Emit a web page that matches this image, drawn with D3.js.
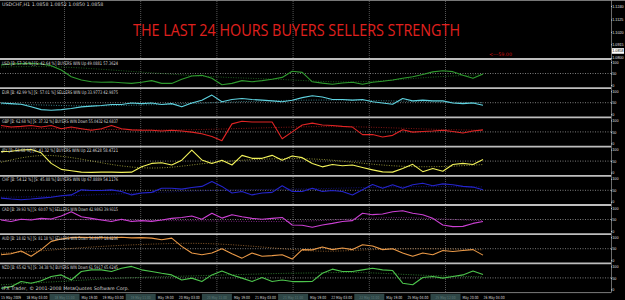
<!DOCTYPE html>
<html><head><meta charset="utf-8">
<script src="https://cdn.jsdelivr.net/npm/d3@7/dist/d3.min.js"></script>
<style>html,body{margin:0;padding:0;background:#000;overflow:hidden}</style>
</head><body><svg id="c" width="625" height="300"></svg>
<script>
// ---------- data ----------
const currencies = ["USD","EUR","GBP","JPY","CHF","CAD","AUD","NZD"];
const panelTexts = [
  "USD  [B: 57.36 %]  [S: 42.64 %]  BUYERS WIN   Up 49.0881 57.3624",
  "EUR  [B: 42.99 %]  [S: 57.01 %]  SELLERS WIN   Up 33.9773 42.9875",
  "GBP  [B: 62.68 %]  [S: 37.32 %]  BUYERS WIN   Down 55.0432 62.6837",
  "JPY  [B: 58.68 %]  [S: 41.32 %]  BUYERS WIN   Up 22.4628 58.4721",
  "CHF  [B: 54.12 %]  [S: 45.88 %]  BUYERS WIN   Up 67.8889 54.1176",
  "CAD  [B: 39.93 %]  [S: 60.07 %]  SELLERS WIN   Down 42.9863 39.9315",
  "AUD  [B: 18.82 %]  [S: 81.18 %]  SELLERS WIN   Down 36.8977 18.8236",
  "NZD  [B: 65.62 %]  [S: 34.38 %]  BUYERS WIN   Down 61.5917 65.6245"
];
const usdLine = [87,91,93,94,91,84,65,36,22,14,12,13,10,7,12,19,7,7,25,39,42,29,1,7,19,14,19,25,33,60,55,14,8,3,9,12,3,12,16,22,29,36,46,57,62,58,42,29,48];
const eurLine = [49,46,43,32,20,17,20,25,32,35,38,42,42,49,46,49,42,46,32,49,61,83,54,64,68,64,61,58,54,61,72,80,75,64,64,61,64,54,49,43,68,58,61,58,58,49,46,49,39];
const gbpLine = [78,71,74,78,71,78,64,71,64,57,64,78,64,59,57,57,54,57,54,49,42,30,12,85,96,93,93,93,20,50,80,88,80,78,74,71,38,39,28,35,59,49,52,54,57,52,45,54,59];
const jpyLine = [91,93,98,100,86,40,14,8,2,1,2,2,1,2,25,40,43,33,54,98,55,40,54,33,75,62,62,75,54,72,65,40,25,35,30,33,22,12,3,2,18,36,4,18,6,35,40,35,57];
const chfLine = [16,12,9,12,16,20,26,30,52,49,49,52,45,30,38,41,59,59,55,62,67,88,67,38,45,30,38,41,70,45,45,59,45,49,45,30,52,75,59,74,59,74,81,70,78,74,67,64,52];
const cadLine = [48,41,51,48,55,52,65,84,62,55,48,41,51,41,45,42,48,55,59,65,51,77,56,71,62,55,51,55,59,26,25,16,26,33,41,45,77,71,74,84,88,77,71,55,26,19,20,33,41];
const audLine = [24,28,40,17,46,82,92,98,100,98,98,97,100,97,98,96,89,96,60,31,24,31,50,28,9,31,17,20,24,5,46,45,57,46,53,46,67,62,46,50,31,17,31,24,42,38,42,46,22];
const nzdLine = [5,12,34,27,38,56,63,41,78,85,85,78,92,100,85,78,70,63,41,49,34,63,80,63,49,34,52,34,41,34,34,35,70,88,78,78,85,92,85,82,27,20,52,56,49,56,63,80,65];
const usdSlow = [78,82,75,62,50,38,30,25,14,12,25,38,45];
const eurSlow = [45,40,35,38,42,48,55,60,62,60,57,53,50];
const gbpSlow = [68,65,62,60,58,60,65,70,74,72,66,60,57];
const jpySlow = [45,85,60,25,15,40,55,62,60,40,25,25,35];
const chfSlow = [20,22,28,35,42,48,52,55,57,62,66,66,65];
const cadSlow = [50,52,50,47,45,44,42,40,45,55,60,52,45];
const audSlow = [30,40,55,65,72,75,65,50,35,45,50,50,45];
const nzdSlow = [20,30,40,50,55,60,65,70,72,75,65,58,55];
const fastSeries = [usdLine,eurLine,gbpLine,jpyLine,chfLine,cadLine,audLine,nzdLine];
const slowSeries = [usdSlow,eurSlow,gbpSlow,jpySlow,chfSlow,cadSlow,audSlow,nzdSlow];
const levelTicks = [100,50,0];
const timeLabels = ["15 May 2009","18 May 03:00","18 May 11:00","18 May 19:00","19 May 03:00","19 May 11:00","19 May 19:00","20 May 03:00","20 May 11:00","20 May 19:00","21 May 03:00","21 May 11:00","21 May 19:00","22 May 03:00","22 May 11:00","22 May 19:00","25 May 04:00","25 May 12:00","25 May 20:00","26 May 04:00"];
const gridLabelIdx = [2,5,8,11,14,17];
const priceTicks = [1.1240,1.1125,1.1020,1.0915,1.0800];
const priceDomain = [1.0800,1.1240];
const lastPrice = 1.0858;
const headerText = "USDCHF,H1  1.0858 1.0852 1.0850 1.0858";
const titleText = "THE LAST 24 HOURS BUYERS SELLERS STRENGTH";
const arrowText = "<---59.00";
const copyrightText = "IFX Trader, \u00A9 2001-2008 MetaQuotes Software Corp.";

// ---------- styles ----------
const lineColors = ["#2f9a2f","#5fd3e0","#e02424","#f2f25a","#2424cc","#cc40d4","#eb9a48","#4cc44c"];
const FONT = "Tahoma, 'DejaVu Sans', sans-serif";
const AXFONT = "'Liberation Sans', Arial, sans-serif";

// ---------- drawing ----------
const svg = d3.select("#c");
const W = 625, plotRight = 611, firstTop = 59, panelH = 29.2, bottom = firstTop + panelH*8;
svg.append("rect").attr("width",W).attr("height",300).attr("fill","#000");

const x = d3.scaleLinear().domain([0, usdLine.length-1]).range([1, 483]);
const xs = d3.scaleLinear().domain([0, usdSlow.length-1]).range([1, 483]);
const xt = d3.scaleLinear().domain([0, 1]).range([1, 26.4]);
const yPrice = d3.scaleLinear().domain(priceDomain).range([57.8, 6]);

svg.append("line").attr("x1",0).attr("x2",W).attr("y1",0.5).attr("y2",0.5).attr("stroke","#777");

// vertical grid
svg.selectAll("line.vg").data(gridLabelIdx).enter().append("line")
  .attr("x1",d=>xt(d+0.5)).attr("x2",d=>xt(d+0.5)).attr("y1",1).attr("y2",bottom)
  .attr("stroke","#6a6a6a").attr("stroke-width",0.8).attr("stroke-dasharray","1,1");

svg.append("line").attr("x1",plotRight+0.5).attr("x2",plotRight+0.5).attr("y1",0).attr("y2",bottom)
  .attr("stroke","#9a9a9a").attr("stroke-width",0.7);

function styleRightAxis(ax){
  ax.select(".domain").remove();
  ax.selectAll("line").attr("stroke","#ccc");
  ax.selectAll("text").attr("fill","#e0e0e0").attr("font-size",3.7).attr("font-family",AXFONT).attr("x",1.3);
}
// price axis
const pAxis = svg.append("g").attr("transform",`translate(${plotRight},0)`)
  .call(d3.axisRight(yPrice).tickValues(priceTicks).tickFormat(d3.format(".4f")).tickSize(1));
styleRightAxis(pAxis);
svg.append("rect").attr("x",plotRight+1).attr("y",yPrice(lastPrice)-2.8).attr("width",12).attr("height",5.6).attr("fill","#fff");
svg.append("text").attr("x",plotRight+1.3).attr("y",yPrice(lastPrice)).attr("dy","0.35em")
  .attr("font-size",3.7).attr("font-family",AXFONT).attr("fill","#000").text(d3.format(".4f")(lastPrice));

// header text & title
svg.append("text").attr("x",2).attr("y",6).attr("font-size",4.8).attr("font-family",FONT).attr("fill","#cfcfcf").text(headerText);
svg.append("text").attr("x",133).attr("y",35.5).attr("font-size",15.5).attr("font-family","'Open Sans', sans-serif")
  .attr("fill","#e0201e").attr("textLength",327).attr("lengthAdjust","spacingAndGlyphs").text(titleText);
svg.append("text").attr("x",489).attr("y",55.5).attr("font-size",4.8).attr("font-family",FONT).attr("fill","#d01010").text(arrowText);

// panels
currencies.forEach((c,i)=>{
  const top = firstTop + i*panelH;
  const y = d3.scaleLinear().domain([0,100]).range([top+26, top+3]);
  const g = svg.append("g");
  g.append("line").attr("x1",0).attr("x2",plotRight).attr("y1",y(50)).attr("y2",y(50))
    .attr("stroke","#9a9a9a").attr("stroke-width",0.8).attr("stroke-dasharray","1,1.5");
  g.append("path").datum(slowSeries[i])
    .attr("d",d3.line().x((d,j)=>xs(j)).y(d=>y(d)).curve(d3.curveBasis))
    .attr("fill","none").attr("stroke",lineColors[i]).attr("stroke-opacity",0.65)
    .attr("stroke-width",0.9).attr("stroke-dasharray","1,1.5");
  g.append("path").datum(fastSeries[i])
    .attr("d",d3.line().x((d,j)=>x(j)).y(d=>y(d)))
    .attr("fill","none").attr("stroke",lineColors[i]).attr("stroke-width",1.1).attr("stroke-linejoin","round");
  const ax = g.append("g").attr("transform",`translate(${plotRight},0)`)
    .call(d3.axisRight(y).tickValues(levelTicks).tickSize(1));
  styleRightAxis(ax);
  g.append("text").attr("x",2).attr("y",top+5.5).attr("font-size",4.8).attr("font-family",FONT)
    .attr("fill","#d8d8d8").attr("textLength",116).attr("lengthAdjust","spacingAndGlyphs").text(panelTexts[i]);
  svg.append("line").attr("x1",0).attr("x2",plotRight).attr("y1",top).attr("y2",top)
    .attr("stroke","#bdbdbd").attr("stroke-width",1.8);
});

svg.append("line").attr("x1",0).attr("x2",plotRight).attr("y1",bottom).attr("y2",bottom).attr("stroke","#9a9a9a").attr("stroke-width",0.8);
svg.append("text").attr("x",2).attr("y",bottom-2.5).attr("font-size",4.8).attr("font-family",FONT).attr("fill","#cfcfcf").text(copyrightText);

// time labels: full labels, grid-boxed labels, and labels partly hidden behind a box
const tg = svg.append("g");
const kind = k => gridLabelIdx.includes(k) ? "box" : (gridLabelIdx.includes(k-1) ? "part" : "full");
timeLabels.forEach((lab,k)=>{
  const t = kind(k);
  if (t === "box") {
    tg.append("rect").attr("x",xt(k+0.5)-15).attr("y",bottom+1.2).attr("width",30).attr("height",7).attr("fill","#2e4646");
    tg.append("text").attr("x",xt(k+0.5)).attr("y",298.5).attr("text-anchor","middle")
      .attr("font-size",4.2).attr("font-family",FONT).attr("fill","#5f7a7a")
      .attr("textLength",20).attr("lengthAdjust","spacingAndGlyphs").text(lab);
  } else if (t === "part") {
    const shown = lab.slice(lab.indexOf(" ")+1);
    tg.append("text").attr("x",xt(k-1+0.5)+17).attr("y",298.5).attr("font-size",4.3).attr("font-family",FONT)
      .attr("fill","#dcdcdc").attr("textLength",16).attr("lengthAdjust","spacingAndGlyphs").text(shown);
  } else {
    tg.append("text").attr("x",xt(k)).attr("y",298.5).attr("font-size",4.3).attr("font-family",FONT)
      .attr("fill","#dcdcdc").attr("textLength",k===0?20:21).attr("lengthAdjust","spacingAndGlyphs").text(lab);
  }
});
</script></body></html>
